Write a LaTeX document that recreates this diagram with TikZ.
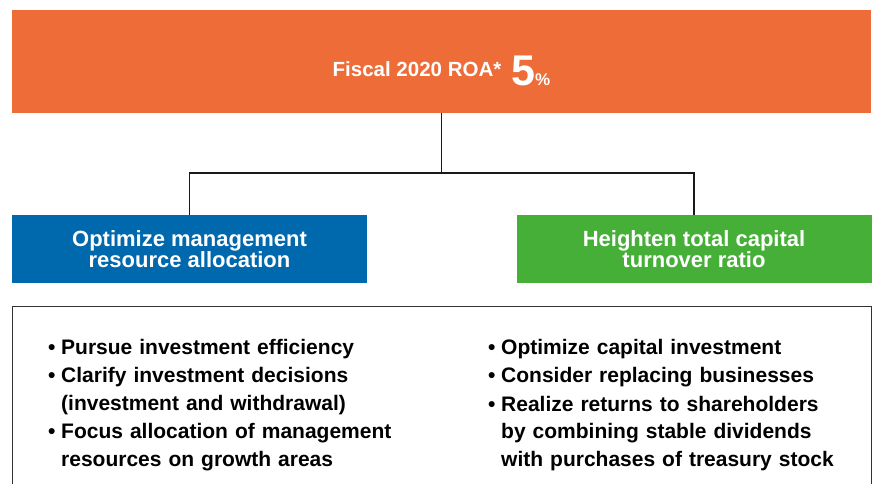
\documentclass[tikz,border=0pt]{standalone}
\usepackage{fontspec}
\setmainfont{Liberation Sans}
\usetikzlibrary{positioning}
\definecolor{roaorange}{RGB}{238,108,56}
\definecolor{allocblue}{RGB}{0,104,172}
\definecolor{turngreen}{RGB}{70,175,55}
\tikzstyle{goal} = [rectangle, fill=roaorange, text=white, font=\bfseries,
    minimum width=859pt, minimum height=103pt, inner sep=0pt,
    text height=51.5pt, text depth=4.5pt]
\tikzstyle{block} = [rectangle, text=white, font=\bfseries\fontsize{22}{21}\selectfont,
    align=center, minimum width=355pt, minimum height=68pt, inner sep=0pt]
\tikzstyle{frame} = [rectangle, draw=black!80, line width=1pt, anchor=north west,
    minimum width=859pt, minimum height=190pt, inner sep=0pt]
\tikzstyle{measures} = [anchor=north west, text width=400pt, align=left, inner sep=0pt,
    font=\bfseries\fontsize{21}{27.5}\selectfont]
\tikzstyle{line} = [draw, line width=1.2pt, black!90]
\newcommand{\point}[1]{\hangindent=13pt\hangafter=1\noindent\makebox[13pt][l]{\textbullet}#1\par}

\begin{document}
\begin{tikzpicture}[x=1pt, y=-1pt]
		\useasboundingbox (0,0) rectangle (881,483);
		\node [goal] (roa) at (441.5,61.5)
			{\raisebox{9pt}{\fontsize{20.5}{24}\selectfont Fiscal 2020 ROA*}\hspace{10pt}{\fontsize{43}{43}\selectfont 5}{\fontsize{17}{17}\selectfont\%}};
		\node [block, fill=allocblue] (alloc) at (189.5,249) {Optimize management\\resource allocation};
		\node [block, fill=turngreen] (turn) at (694,249) {Heighten total capital\\turnover ratio};
		\coordinate (fork) at (441.5,173);
		
		\path [line] (roa.south) -- (fork);
		\path [line] (alloc.north) |- (fork) -| (turn.north);
		
		\node [frame] (measurebox) at (12,306) {};
		\node [measures] (allocpoints) at (48,339) {%
			\setlength{\parskip}{1pt}%
			\point{Pursue investment efficiency}
			\point{Clarify investment decisions\newline(investment and withdrawal)}
			\point{Focus allocation of management\newline resources on growth areas}};
		\node [measures] (turnpoints) at (488,339) {%
			\setlength{\parskip}{1pt}%
			\point{Optimize capital investment}
			\point{Consider replacing businesses}
			\point{Realize returns to shareholders\newline by combining stable dividends\newline with purchases of treasury stock}};
	\end{tikzpicture}
\end{document}
